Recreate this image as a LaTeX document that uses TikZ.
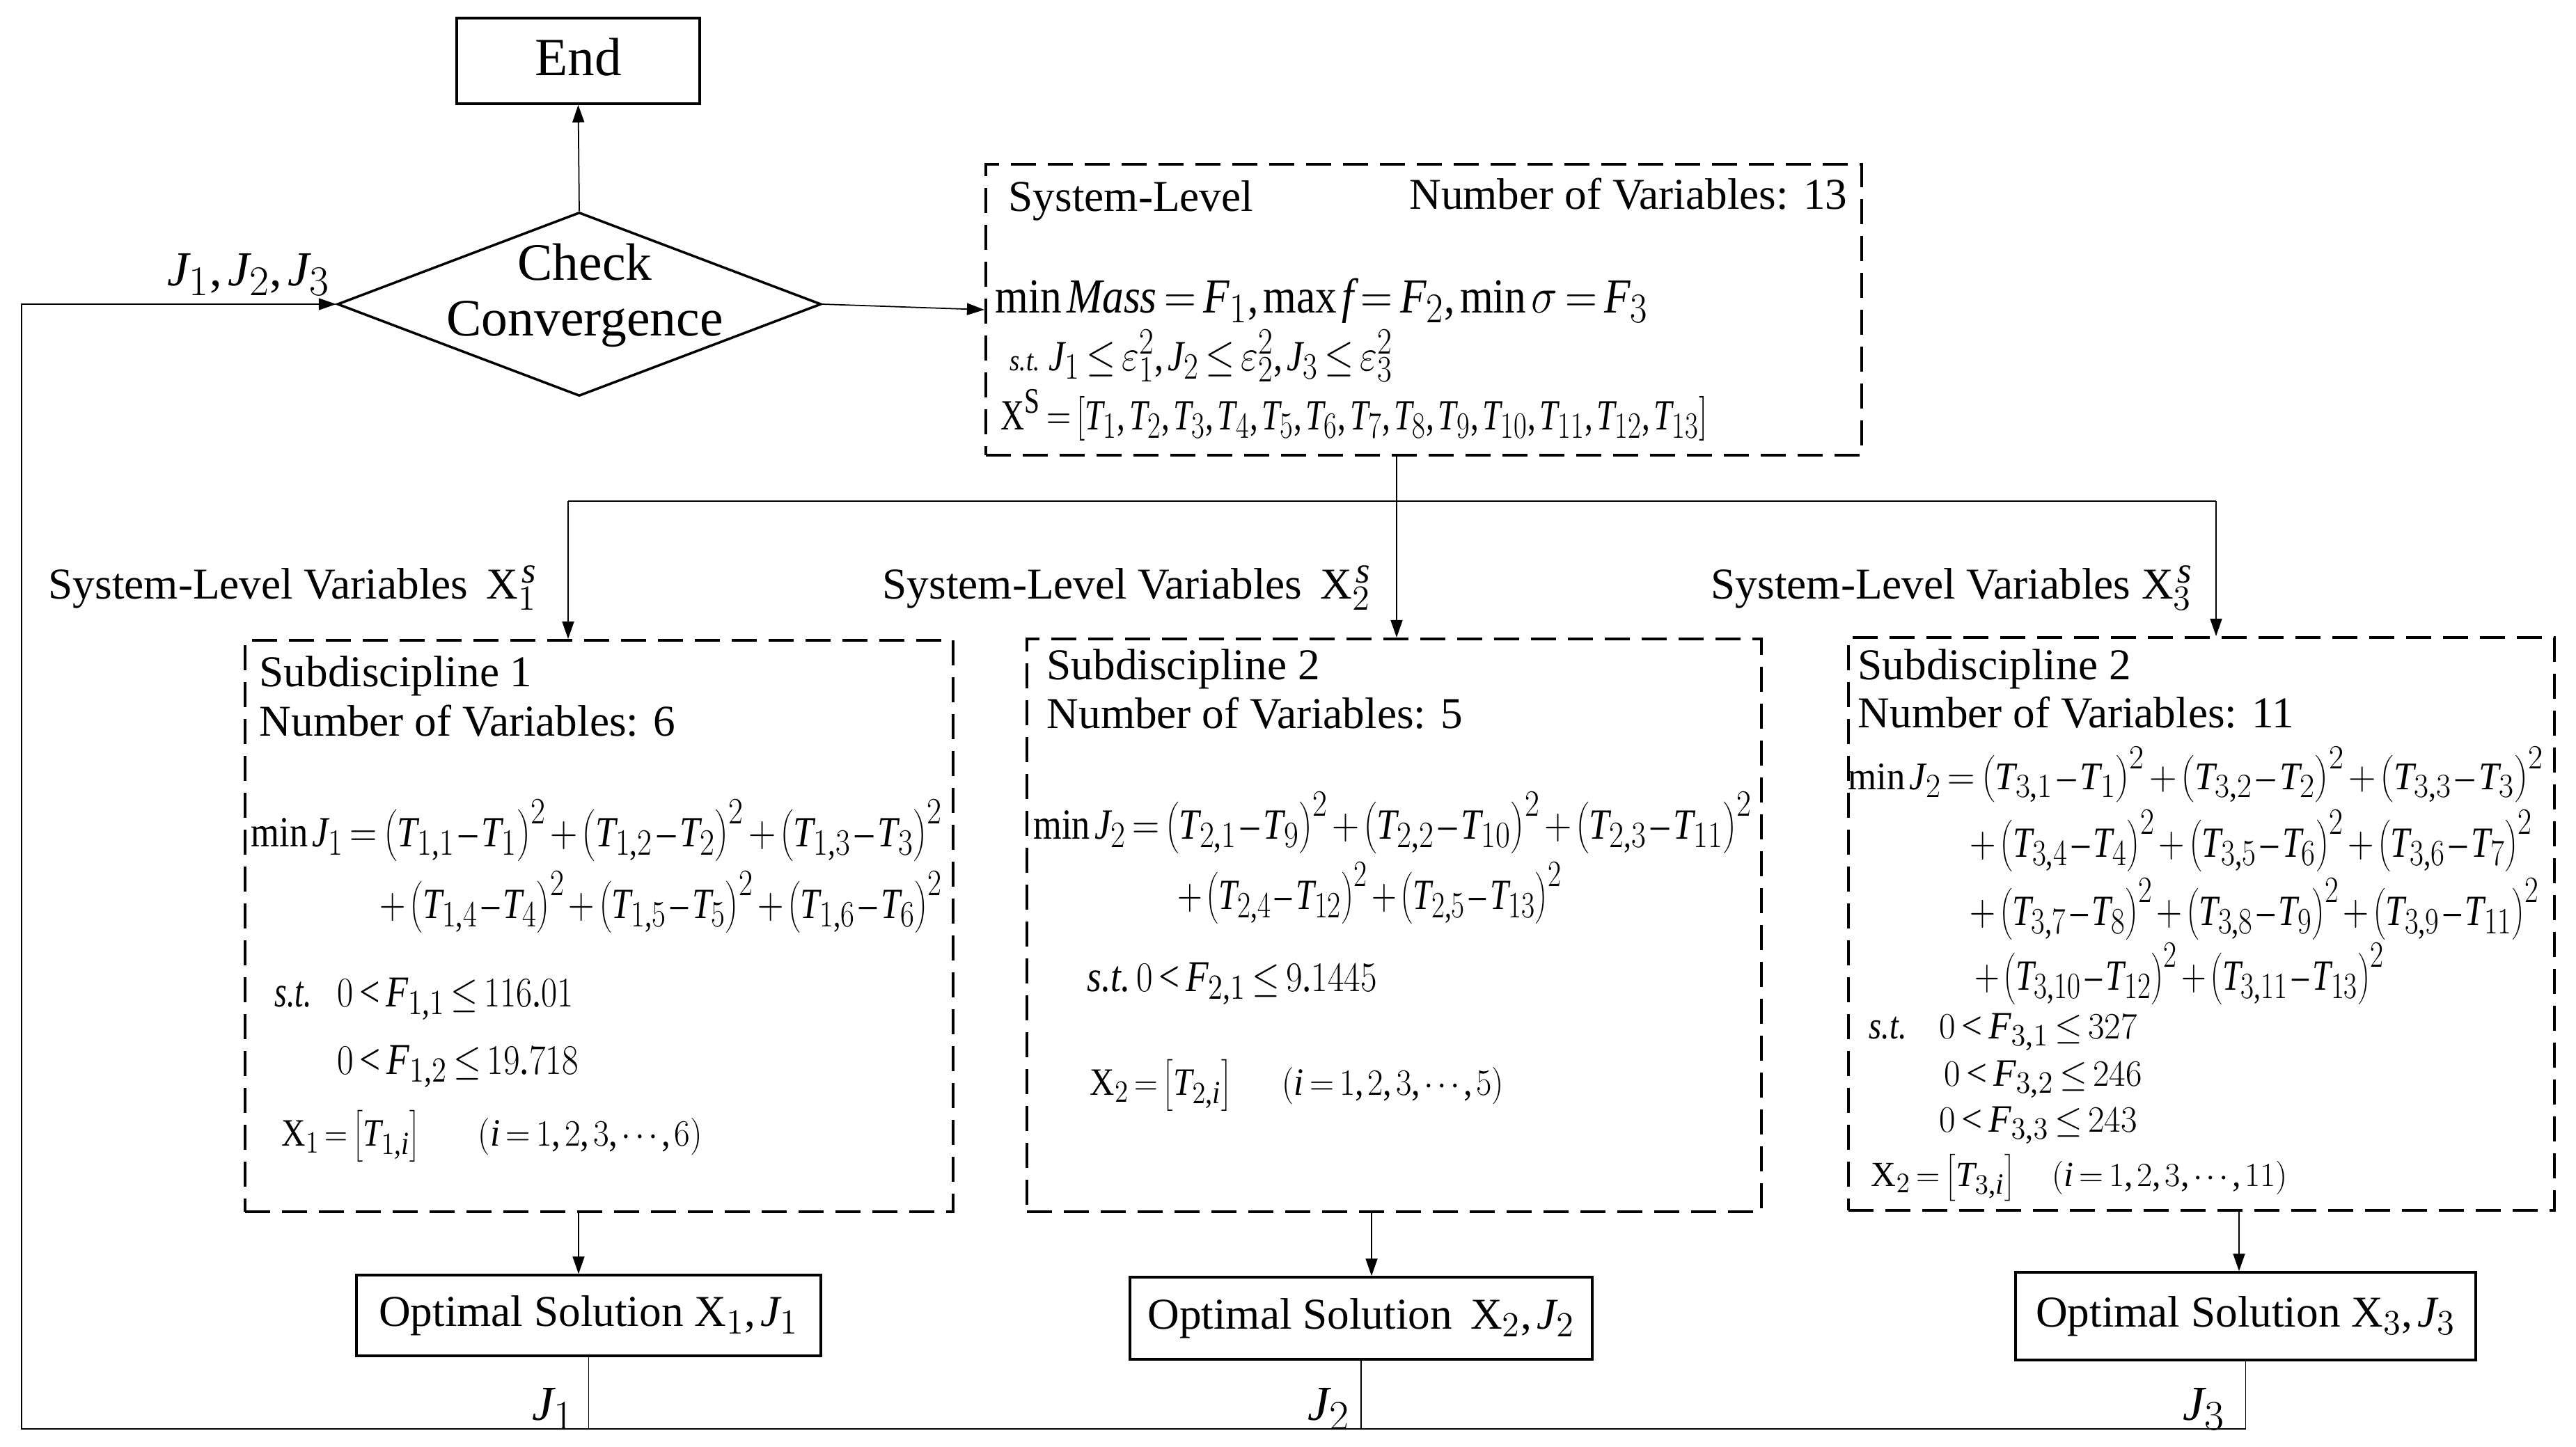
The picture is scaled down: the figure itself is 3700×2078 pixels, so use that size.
\documentclass[tikz,border=0pt]{standalone}
\usepackage{fontspec}
\setmainfont{Liberation Serif}
\usepackage[italic]{mathastext}
\usepackage{graphicx}
\usetikzlibrary{shapes.geometric,arrows.meta}
\newcommand{\sqd}[2]{\left(#1-#2\right)^{2}}
\newcommand{\fitw}[2]{\resizebox{#1}{\height}{#2}}
\newcommand{\fitwv}[2]{\resizebox{#1}{0.88\height}{#2}}
\newcommand{\fitwn}[2]{\resizebox{#1}{0.8\height}{#2}}
\begin{document}
\thinmuskip=2mu \medmuskip=2mu \thickmuskip=3mu
\begin{tikzpicture}[x=0.1mm,y=-0.1mm,
  txt/.style={font=\fontsize{18}{22}\selectfont, inner sep=0pt, anchor=base west},
  big/.style={font=\fontsize{20}{24}\selectfont, inner sep=0pt, anchor=base west},
  mid/.style={font=\fontsize{18}{22}\selectfont, inner sep=0pt, anchor=base west},
  solidbox/.style={draw, line width=1pt, inner sep=0pt, font=\fontsize{18}{22}\selectfont},
  dashbox/.style={draw, line width=1.2pt, dash pattern=on 3.6mm off 1.7mm, inner sep=0pt},
  conn/.style={line width=0.5pt},
  arr/.style={conn, -{Triangle[length=2.5mm,width=1.7mm]}}]
\useasboundingbox (0,0) rectangle (3700,2078);
% boxes
\node[solidbox, minimum width=34.9mm, minimum height=12.3mm] (end) at (830.5,87.5) {};
\node[txt, anchor=base, font=\fontsize{22}{26}\selectfont] (endt) at (831,108) {End};
\node[draw, diamond, line width=1pt, minimum width=69.5mm, minimum height=26.4mm, inner sep=0pt] (dia) at (832,437) {};
\node[txt, anchor=base, font=\fontsize{21.5}{26}\selectfont] (chk1) at (840,402) {Check};
\node[txt, anchor=base, font=\fontsize{21.5}{26}\selectfont] (chk2) at (840,482) {Convergence};
\node[dashbox, minimum width=125.8mm, minimum height=41.8mm] (sys) at (2045,445) {};
\node[dashbox, minimum width=101.7mm, minimum height=82.1mm] (box1) at (860.5,1330.5) {};
\node[dashbox, minimum width=105.5mm, minimum height=82.3mm] (box2) at (2002.5,1329.5) {};
\node[dashbox, minimum width=101.4mm, minimum height=82.3mm] (box3) at (3162,1327.5) {};
\node[solidbox, minimum width=66.7mm, minimum height=11.6mm] (opt1) at (845.5,1890) {Optimal Solution $\mathrm{X}_1, J_1$};
\node[solidbox, minimum width=66.4mm, minimum height=11.8mm] (opt2) at (1955,1894) {Optimal Solution\, $\mathrm{X}_2, J_2$};
\node[solidbox, minimum width=66.1mm, minimum height=12.6mm] (opt3) at (3225.5,1891) {Optimal Solution $\mathrm{X}_3, J_3$};
% system level text
\node[txt] (syst) at (1448,303) {System-Level};
\node[txt, anchor=base east] (sysn) at (2654,300) {Number of Variables: 13};
\node[big] (sys1) at (1429,449) {\fitw{93.8mm}{$\min \mathit{Mass}=F_1,\max f=F_2,\min \sigma=F_3$}};
\node[big] (sys2) at (1450,532) {\fitwv{55mm}{{\fontsize{14}{16}\selectfont\textit{s.t.}}\ $J_1\le\varepsilon_1^2,J_2\le\varepsilon_2^2,J_3\le\varepsilon_3^2$}};
\node[big] (sys3) at (1437,617) {\fitwv{101.5mm}{$\mathrm{X}^{\mathrm{S}}=\left[T_1,T_2,T_3,T_4,T_5,T_6,T_7,T_8,T_9,T_{10},T_{11},T_{12},T_{13}\right]$}};
% labels
\node[txt] (lab1) at (69,860) {System-Level Variables \,$\mathrm{X}_1^{\,s}$};
\node[txt] (lab2) at (1267,860) {System-Level Variables \,$\mathrm{X}_2^{\,s}$};
\node[txt] (lab3) at (2457,860) {System-Level Variables $\mathrm{X}_3^{\,s}$};
\node[big] (jall) at (240,410) {$J_1,J_2,J_3$};
\node[big, anchor=base east] (j1) at (826,2040) {$J_1$};
\node[big, anchor=base east] (j2) at (1940,2040) {$J_2$};
\node[big, anchor=base east] (j3) at (3197,2040) {$J_3$};
% box 1
\node[txt] (b1a) at (372,986) {Subdiscipline 1};
\node[txt] (b1b) at (372,1057) {Number of Variables: 6};
\node[big] (b1c) at (360,1216) {\fitwv{99.3mm}{$\min J_1=\sqd{T_{1,1}}{T_1}+\sqd{T_{1,2}}{T_2}+\sqd{T_{1,3}}{T_3}$}};
\node[big] (b1d) at (545,1319) {\fitwv{80.8mm}{$+\sqd{T_{1,4}}{T_4}+\sqd{T_{1,5}}{T_5}+\sqd{T_{1,6}}{T_6}$}};
\node[mid] (b1e) at (394,1446) {\fitw{5.3mm}{\textit{s.t.}}};
\node[mid] (b1f) at (484,1446) {\fitw{33.9mm}{$0<F_{1,1}\le 116.01$}};
\node[mid] (b1g) at (484,1543) {\fitw{34.6mm}{$0<F_{1,2}\le 19.718$}};
\node[mid] (b1h) at (404,1646) {\fitwv{19.8mm}{$\mathrm{X}_1=\left[T_{1,i}\right]$}};
\node[mid] (b1i) at (686,1646) {\fitwv{32.2mm}{$\left(i=1,2,3,\cdots,6\right)$}};
% box 2
\node[txt] (b2a) at (1503,976) {Subdiscipline 2};
\node[txt] (b2b) at (1503,1046) {Number of Variables: 5};
\node[big] (b2c) at (1484,1205) {\fitwv{103.2mm}{$\min J_2=\sqd{T_{2,1}}{T_9}+\sqd{T_{2,2}}{T_{10}}+\sqd{T_{2,3}}{T_{11}}$}};
\node[big] (b2d) at (1691,1306) {\fitwv{55.2mm}{$+\sqd{T_{2,4}}{T_{12}}+\sqd{T_{2,5}}{T_{13}}$}};
\node[mid] (b2e) at (1561,1424) {\fitw{41.6mm}{\textit{s.t.}\,$0<F_{2,1}\le 9.1445$}};
\node[mid] (b2f) at (1565,1573) {\fitwv{20.3mm}{$\mathrm{X}_2=\left[T_{2,i}\right]$}};
\node[mid] (b2g) at (1841,1573) {\fitwv{31.8mm}{$\left(i=1,2,3,\cdots,5\right)$}};
% box 3
\node[txt] (b3a) at (2668,976) {Subdiscipline 2};
\node[txt] (b3b) at (2668,1045) {Number of Variables: 11};
\node[big] (b3c) at (2654,1134) {\fitwn{99.9mm}{$\min J_2=\sqd{T_{3,1}}{T_1}+\sqd{T_{3,2}}{T_2}+\sqd{T_{3,3}}{T_3}$}};
\node[big] (b3d) at (2829,1231) {\fitwv{80.8mm}{$+\sqd{T_{3,4}}{T_4}+\sqd{T_{3,5}}{T_6}+\sqd{T_{3,6}}{T_7}$}};
\node[big] (b3e) at (2829,1329) {\fitwv{81.8mm}{$+\sqd{T_{3,7}}{T_8}+\sqd{T_{3,8}}{T_9}+\sqd{T_{3,9}}{T_{11}}$}};
\node[big] (b3f) at (2836,1422) {\fitwv{58.8mm}{$+\sqd{T_{3,10}}{T_{12}}+\sqd{T_{3,11}}{T_{13}}$}};
\node[mid] (b3g) at (2684,1492) {\fitwv{5.4mm}{\textit{s.t.}}};
\node[mid] (b3h) at (2785,1492) {\fitwv{28.4mm}{$0<F_{3,1}\le 327$}};
\node[mid] (b3i) at (2792,1560) {\fitwv{28.4mm}{$0<F_{3,2}\le 246$}};
\node[mid] (b3j) at (2785,1626) {\fitwv{28.4mm}{$0<F_{3,3}\le 243$}};
\node[mid] (b3k) at (2687,1704) {\fitwn{20.6mm}{$\mathrm{X}_2=\left[T_{3,i}\right]$}};
\node[mid] (b3l) at (2947,1704) {\fitwn{33.8mm}{$\left(i=1,2,3,\cdots,11\right)$}};
% connectors
\coordinate (sysout) at (2006,654);
\coordinate (bus1) at (816,720);
\coordinate (bus3) at (3183,720);
\coordinate (d1) at (831,1741);
\coordinate (d2) at (1970,1741);
\coordinate (d3) at (3216,1739);
\coordinate (lc) at (31,2053);
\coordinate (lt) at (31,437);
\draw[arr] (dia.north) -- (end.south);
\draw[arr] (dia.east) -- (sys.west);
\draw[arr] (sysout) -- (sysout |- box2.north);
\draw[conn] (bus1) -- (bus3);
\draw[arr] (bus1) -- (bus1 |- box1.north);
\draw[arr] (bus3) -- (bus3 |- box3.north);
\draw[arr] (d1) -- (d1 |- opt1.north);
\draw[arr] (d2) -- (d2 |- opt2.north);
\draw[arr] (d3) -- (d3 |- opt3.north);
\draw[conn] (opt1.south) -- (opt1.south |- lc);
\draw[conn] (opt2.south) -- (opt2.south |- lc);
\draw[arr] (opt3.south) -- (opt3.south |- lc) -- (lc) -- (lt) -- (dia.west);
\end{tikzpicture}
\end{document}
